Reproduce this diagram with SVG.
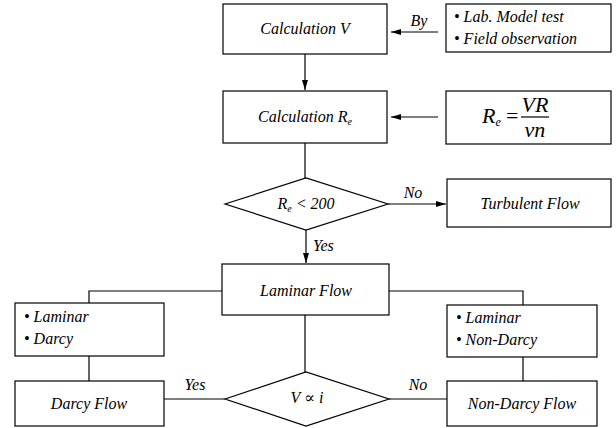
<svg xmlns="http://www.w3.org/2000/svg" width="616" height="428" viewBox="0 0 616 428">
<defs>
<marker id="ah" viewBox="0 0 10 6" refX="10" refY="3" markerWidth="10" markerHeight="6" markerUnits="userSpaceOnUse" orient="auto">
<path d="M0,0 L10,3 L0,6 Z" fill="#000"/>
</marker>
<style>
.box{fill:#fff;stroke:#000;stroke-width:1.2}
.ln{fill:none;stroke:#000;stroke-width:1.2}
text{font-family:'Liberation Serif','DejaVu Serif','Times New Roman',serif;font-style:italic;fill:#000}
.t{font-size:16px}
.c{text-anchor:middle}
.f{font-size:22px}
</style>
</defs>
<rect width="616" height="428" fill="#fff"/>
<g id="connectors">
<line class="ln" x1="438" y1="32" x2="391" y2="32" marker-end="url(#ah)"/>
<text class="t c" x="419" y="26">By</text>
<line class="ln" x1="305" y1="54" x2="305" y2="90" marker-end="url(#ah)"/>
<line class="ln" x1="438" y1="117" x2="391" y2="117" marker-end="url(#ah)"/>
<line class="ln" x1="305" y1="143" x2="305" y2="178"/>
<line class="ln" x1="388" y1="204" x2="446" y2="204" marker-end="url(#ah)"/>
<text class="t c" x="413" y="198">No</text>
<line class="ln" x1="306" y1="230" x2="306" y2="263" marker-end="url(#ah)"/>
<text class="t" x="313" y="251">Yes</text>
<polyline class="ln" points="222,291 89,291 89,303"/>
<line class="ln" x1="89" y1="356" x2="89" y2="381"/>
<line class="ln" x1="164" y1="399" x2="225" y2="399"/>
<text class="t c" x="195" y="390">Yes</text>
<line class="ln" x1="305" y1="315" x2="305" y2="372"/>
<polyline class="ln" points="389,291 523,291 523,305"/>
<line class="ln" x1="523" y1="357" x2="523" y2="381"/>
<line class="ln" x1="389" y1="399" x2="447" y2="399"/>
<text class="t c" x="418" y="390">No</text>
</g>
<g id="calcV">
<rect class="box" x="223" y="4" width="164" height="50"/>
<text class="t c" x="305" y="34">Calculation V</text>
</g>
<g id="byMethods">
<rect class="box" x="446" y="4" width="165" height="48"/>
<text class="t" x="454" y="22">• Lab. Model test</text>
<text class="t" x="454" y="44">• Field observation</text>
</g>
<g id="calcRe">
<rect class="box" x="223" y="91" width="164" height="52"/>
<text class="t c" x="305" y="122">Calculation R<tspan font-size="10" dy="3">e</tspan></text>
</g>
<g id="formula">
<rect class="box" x="446" y="91" width="165" height="53"/>
<text class="f" x="482" y="123">R<tspan font-size="12" dy="3">e</tspan></text>
<text class="f" x="506" y="123" style="font-style:normal">=</text>
<line class="ln" x1="521" y1="117" x2="549" y2="117"/>
<text class="f c" x="535" y="112">VR</text>
<text class="f c" x="535" y="137">νn</text>
</g>
<g id="reDecision">
<polygon class="box" points="225,204 306,178 388,204 306,230"/>
<text class="t c" x="306" y="209">R<tspan font-size="10" dy="3">e</tspan><tspan dy="-3"> &lt; 200</tspan></text>
</g>
<g id="turbulent">
<rect class="box" x="447" y="179" width="164" height="48"/>
<text class="t c" x="530" y="209">Turbulent Flow</text>
</g>
<g id="laminar">
<rect class="box" x="222" y="264" width="167" height="51"/>
<text class="t c" x="306" y="296">Laminar Flow</text>
</g>
<g id="laminarDarcy">
<rect class="box" x="15" y="303" width="149" height="53"/>
<text class="t" x="24" y="322">• Laminar</text>
<text class="t" x="24" y="344">• Darcy</text>
</g>
<g id="darcyFlow">
<rect class="box" x="15" y="381" width="149" height="45"/>
<text class="t c" x="89" y="409">Darcy Flow</text>
</g>
<g id="vDecision">
<polygon class="box" points="225,399 306,372 389,399 306,426"/>
<text class="t c" x="307" y="403">V <tspan style="font-style:normal">∝</tspan> i</text>
</g>
<g id="laminarNonDarcy">
<rect class="box" x="447" y="305" width="150" height="52"/>
<text class="t" x="456" y="323">• Laminar</text>
<text class="t" x="456" y="345">• Non-Darcy</text>
</g>
<g id="nonDarcyFlow">
<rect class="box" x="447" y="381" width="150" height="45"/>
<text class="t c" x="522" y="409">Non-Darcy Flow</text>
</g>
</svg>
